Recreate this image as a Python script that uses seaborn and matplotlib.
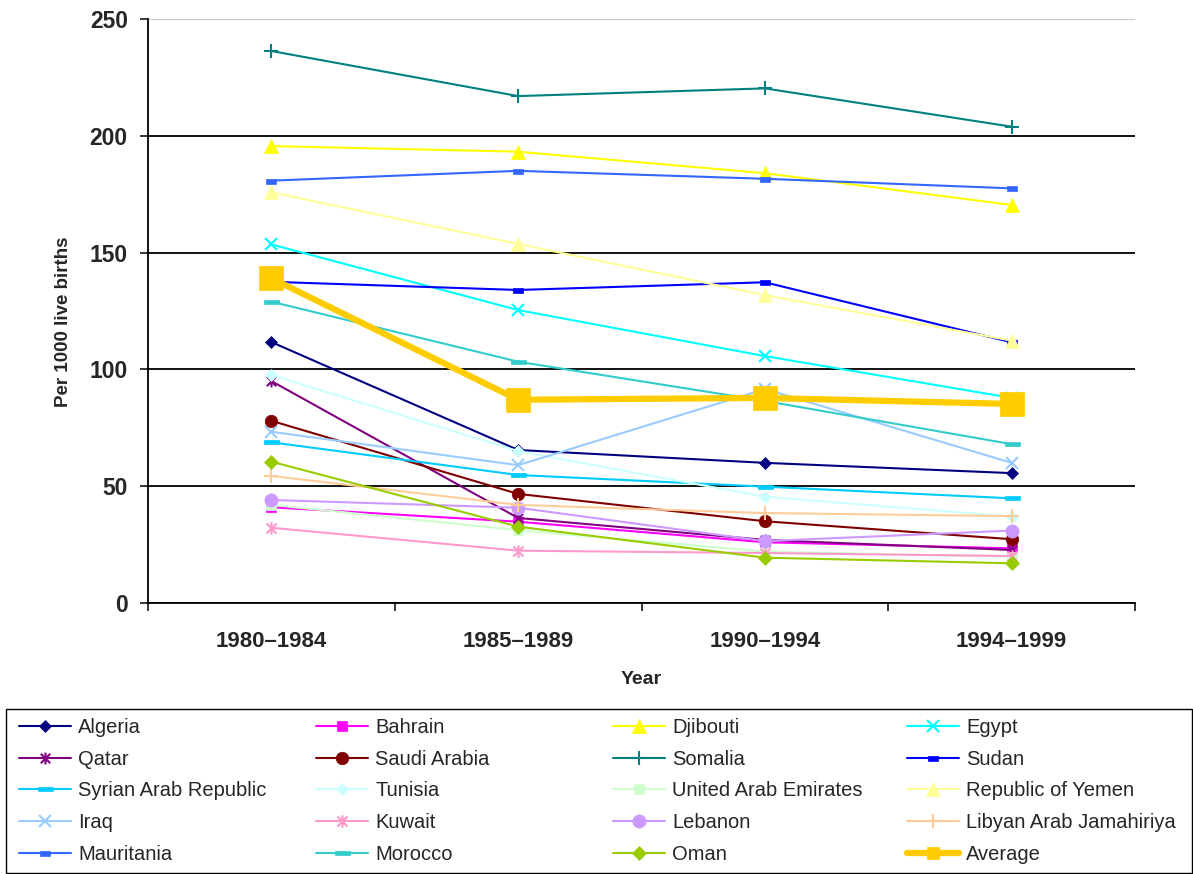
import matplotlib
matplotlib.use("Agg")
import matplotlib.pyplot as plt
from matplotlib.path import Path
from matplotlib.patches import Rectangle
import pandas as pd
import seaborn as sns

# ---- data: under-five mortality, per 1000 live births ----
periods = ["1980–1984", "1985–1989", "1990–1994", "1994–1999"]

algeria = [111.7, 65.5, 60.0, 55.6]
bahrain = [41.0, 34.8, 26.0, 23.4]
djibouti = [195.6, 193.2, 184.0, 170.4]
egypt = [153.5, 125.4, 105.7, 87.8]
qatar = [95.0, 36.4, 27.0, 22.7]
saudi_arabia = [78.0, 46.7, 35.0, 27.3]
somalia = [236.3, 217.0, 220.3, 203.9]
sudan = [137.5, 134.0, 137.3, 111.6]
syria = [68.8, 54.8, 49.8, 44.8]
tunisia = [97.6, 65.0, 45.5, 37.0]
uae = [42.0, 31.2, 22.0, 19.8]
yemen = [175.8, 153.7, 131.8, 112.3]
iraq = [73.3, 59.0, 91.6, 60.0]
kuwait = [32.2, 22.4, 21.4, 20.1]
lebanon = [44.1, 40.8, 26.5, 31.0]
libya = [54.4, 42.0, 38.5, 37.2]
mauritania = [180.8, 185.0, 181.6, 177.5]
morocco = [129.0, 103.3, 86.5, 68.0]
oman = [60.5, 32.7, 19.4, 17.0]
average = [139.0, 87.0, 87.8, 85.2]

y_ticks = [0, 50, 100, 150, 200, 250]

countries = ["Algeria", "Bahrain", "Djibouti", "Egypt",
             "Qatar", "Saudi Arabia", "Somalia", "Sudan",
             "Syrian Arab Republic", "Tunisia", "United Arab Emirates", "Republic of Yemen",
             "Iraq", "Kuwait", "Lebanon", "Libyan Arab Jamahiriya",
             "Mauritania", "Morocco", "Oman", "Average"]
values = [algeria, bahrain, djibouti, egypt,
          qatar, saudi_arabia, somalia, sudan,
          syria, tunisia, uae, yemen,
          iraq, kuwait, lebanon, libya,
          mauritania, morocco, oman, average]

rows = []
for name, vals in zip(countries, values):
    for i, v in enumerate(vals):
        rows.append({"country": name, "pos": i, "period": periods[i], "rate": v})
df = pd.DataFrame(rows)

# ---- marker shapes ----
star = Path([(-0.8, -0.8), (0.8, 0.8), (-0.8, 0.8), (0.8, -0.8), (0, -1), (0, 1)],
            [Path.MOVETO, Path.LINETO, Path.MOVETO, Path.LINETO, Path.MOVETO, Path.LINETO])


def bar(r):
    return Path([(-1, -r), (1, -r), (1, r), (-1, r), (-1, -r)],
                [Path.MOVETO, Path.LINETO, Path.LINETO, Path.LINETO, Path.CLOSEPOLY])


small_bar = bar(0.5)
wide_bar = bar(0.33)

# colour, marker, marker size (pt), line width (pt), open marker?
styles = {
    "Algeria": ("#000080", "D", 6.2, 1.5, False),
    "Bahrain": ("#FF00FF", "s", 7.5, 1.5, False),
    "Djibouti": ("#FFFF00", "^", 9.5, 1.5, False),
    "Egypt": ("#00FFFF", "x", 8.5, 1.5, True),
    "Qatar": ("#800080", star, 8.5, 1.5, True),
    "Saudi Arabia": ("#800000", "o", 9.0, 1.5, False),
    "Somalia": ("#008080", "+", 9.5, 1.5, True),
    "Sudan": ("#0000FF", small_bar, 7.2, 1.5, False),
    "Syrian Arab Republic": ("#00CCFF", wide_bar, 10.8, 1.5, False),
    "Tunisia": ("#CCFFFF", "D", 6.5, 1.5, False),
    "United Arab Emirates": ("#CCFFCC", "s", 7.5, 1.5, False),
    "Republic of Yemen": ("#FFFF99", "^", 9.5, 1.5, False),
    "Iraq": ("#99CCFF", "x", 8.5, 1.5, True),
    "Kuwait": ("#FF99CC", star, 9.0, 1.5, True),
    "Lebanon": ("#CC99FF", "o", 9.5, 1.5, False),
    "Libyan Arab Jamahiriya": ("#FFCC99", "+", 9.5, 1.5, True),
    "Mauritania": ("#3366FF", small_bar, 7.2, 1.5, False),
    "Morocco": ("#33CCCC", wide_bar, 10.8, 1.5, False),
    "Oman": ("#99CC00", "D", 7.0, 1.5, False),
    "Average": ("#FFCC00", "s", 17.0, 4.5, False),
}

sns.set_style("ticks")
plt.rcParams["font.family"] = ["Liberation Sans", "DejaVu Sans"]

W, H = 1193, 874
fig = plt.figure(figsize=(W / 100, H / 100), dpi=100)
ax = fig.add_axes([148 / W, 1 - 603 / H, (1135 - 148) / W, (603 - 19) / H])

for name in countries:
    color, marker, ms, lw, open_marker = styles[name]
    sub = df[df["country"] == name]
    sns.lineplot(data=sub, x="pos", y="rate", ax=ax, color=color, linewidth=lw,
                 marker=marker, markersize=ms,
                 markerfacecolor="none" if open_marker else color,
                 markeredgecolor=color,
                 markeredgewidth=1.5 if open_marker else 0.5,
                 errorbar=None, label=name, legend=False)

if ax.get_legend() is not None:
    ax.get_legend().remove()

# ---- axes ----
ax.set_xlim(-0.5, 3.5)
ax.set_ylim(0, 250)
ax.set_yticks(y_ticks, labels=[str(t) for t in y_ticks], fontsize=16.5, fontweight="bold")
ax.set_xticks(range(4), labels=periods, fontsize=16, fontweight="bold")
ax.set_xticks([-0.5, 0.5, 1.5, 2.5, 3.5], minor=True)
ax.tick_params(axis="x", which="major", length=0, pad=20)
ax.tick_params(axis="x", which="minor", length=6, width=1.1, direction="out", color="black")
ax.tick_params(axis="y", length=6, width=1.1, direction="out", color="black", pad=8.5)

ax.yaxis.grid(True, color="black", linewidth=1.3)
gls = ax.yaxis.get_gridlines()
gls[-1].set_color("#C0C0C0")
ax.set_axisbelow(True)

for side in ("top", "right"):
    ax.spines[side].set_visible(False)
for side in ("left", "bottom"):
    ax.spines[side].set_color("black")
    ax.spines[side].set_linewidth(1.3)

ax.set_xlabel("Year", fontsize=14, fontweight="bold")
ax.set_ylabel("Per 1000 live births", fontsize=13.5, fontweight="bold")
ax.xaxis.set_label_coords(0.5, (603 - 671) / 584)
ax.yaxis.set_label_coords((72 - 148) / 987, (603 - 322) / 584)

# ---- legend: four columns in one framed box ----
handles, labels = ax.get_legend_handles_labels()
col_x = [19, 316, 613, 907]
for j, x0 in enumerate(col_x):
    leg = fig.legend(handles[j::4], labels[j::4], loc="upper left",
                     bbox_to_anchor=(x0 / W, 1 - 718 / H), bbox_transform=fig.transFigure,
                     frameon=False, borderpad=0, borderaxespad=0,
                     handlelength=2.6, handletextpad=0.35, labelspacing=0.63,
                     fontsize=14.5)
    for h, lab in zip(leg.legend_handles, labels[j::4]):
        if lab == "Average":
            h.set_markersize(9)

fig.add_artist(Rectangle((6 / W, 1 / H), 1186 / W, 164 / H, transform=fig.transFigure,
                         fill=False, edgecolor="black", linewidth=1))

fig.savefig("out.png", dpi=100)
